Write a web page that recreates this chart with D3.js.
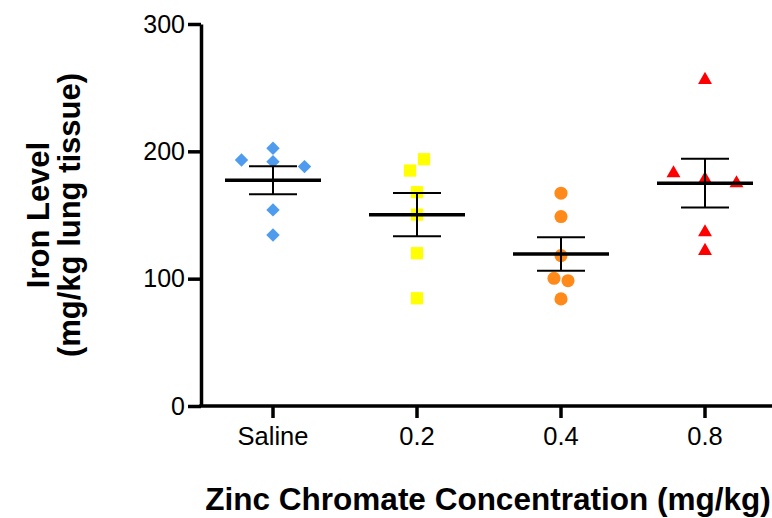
<!DOCTYPE html>
<html>
<head>
<meta charset="utf-8">
<script src="https://cdn.jsdelivr.net/npm/d3@7"></script>
<style>
  html, body { margin: 0; padding: 0; background: #fff; }
  svg { display: block; }
  text { font-family: "Liberation Sans", Arial, sans-serif; fill: #000; }
</style>
</head>
<body>
<svg id="chart" width="772" height="518"></svg>
<script>
// ---- data ----
const categories = ["Saline", "0.2", "0.4", "0.8"];
const salineValues = [202.4, 193.2, 191.9, 188.0, 154.0, 134.3];
const salineSlots  = [0, -4.5, 0, 4.5, 0, 0];
const dose02Values = [193.8, 184.9, 167.9, 150.3, 120.0, 84.6];
const dose02Slots  = [1, -1, 0, 0, 0, 0];
const dose04Values = [167.1, 148.8, 118.1, 100.3, 98.4, 84.1];
const dose04Slots  = [0, 0, 0, -1, 1, 0];
const dose08Values = [256.1, 182.8, 178.1, 174.9, 136.4, 121.8];
const dose08Slots  = [0, -4.5, 0, 4.5, 0, 0];
const yTicks = [0, 100, 200, 300];
const yLabel = ["Iron Level", "(mg/kg lung tissue)"];
const xLabel = "Zinc Chromate Concentration (mg/kg)";

const groups = [
  { name: categories[0], values: salineValues, slots: salineSlots, symbol: d3.symbolDiamond2, size: 115, color: "#4f9cef" },
  { name: categories[1], values: dose02Values, slots: dose02Slots, symbol: d3.symbolSquare, size: 150, color: "#ffff00" },
  { name: categories[2], values: dose04Values, slots: dose04Slots, symbol: d3.symbolCircle, size: 135, color: "#ff8a1a" },
  { name: categories[3], values: dose08Values, slots: dose08Slots, symbol: d3.symbolTriangle, size: 84, color: "#ff0000" }
];

// ---- layout ----
const svg = d3.select("#chart");
const x0 = 201, x1 = 777, yTop = 24, yBot = 406;

const x = d3.scaleBand().domain(categories).range([x0, x1]).padding(0);
const y = d3.scaleLinear().domain([0, 300]).range([yBot, yTop]);
const slot = d3.scaleLinear().domain([0, 1]).range([0, 7]);

// axes
const yAxis = svg.append("g")
  .attr("transform", `translate(${x0},0)`)
  .call(d3.axisLeft(y).tickValues(yTicks).tickSize(13).tickPadding(3).tickSizeOuter(0));
yAxis.select(".domain").attr("stroke", "#000").attr("stroke-width", 3.5);
yAxis.selectAll(".tick line").attr("stroke", "#000").attr("stroke-width", 3.5);
yAxis.selectAll(".tick text").attr("font-size", 25).attr("font-family", "Liberation Sans, Arial, sans-serif").attr("fill", "#000");

const xAxis = svg.append("g")
  .attr("transform", `translate(0,${yBot})`)
  .call(d3.axisBottom(x).tickSize(12).tickPadding(9).tickSizeOuter(0));
xAxis.select(".domain").attr("stroke", "#000").attr("stroke-width", 3.5).attr("d", `M${x0 - 1.75},0H${x1}`);
xAxis.selectAll(".tick line").attr("stroke", "#000").attr("stroke-width", 3.5);
xAxis.selectAll(".tick text").attr("font-size", 25.5).attr("font-family", "Liberation Sans, Arial, sans-serif").attr("fill", "#000");

// points
groups.forEach(g => {
  const cx = x(g.name) + x.bandwidth() / 2;
  svg.append("g").selectAll("path")
    .data(g.values.map((v, i) => ({ v, s: g.slots[i] })))
    .join("path")
    .attr("d", d3.symbol().type(g.symbol).size(g.size))
    .attr("transform", d => `translate(${cx + slot(d.s)},${y(d.v)})`)
    .attr("fill", g.color);
});

// mean and SEM
groups.forEach(g => {
  const cx = x(g.name) + x.bandwidth() / 2;
  const m = d3.mean(g.values);
  const sem = d3.deviation(g.values) / Math.sqrt(g.values.length);
  const gg = svg.append("g").attr("stroke", "#000");
  gg.append("line").attr("x1", cx).attr("x2", cx).attr("y1", y(m + sem)).attr("y2", y(m - sem)).attr("stroke-width", 2);
  [m + sem, m - sem].forEach(v => {
    gg.append("line").attr("x1", cx - 24).attr("x2", cx + 24).attr("y1", y(v)).attr("y2", y(v)).attr("stroke-width", 2);
  });
  gg.append("line").attr("x1", cx - 48).attr("x2", cx + 48).attr("y1", y(m)).attr("y2", y(m)).attr("stroke-width", 3.5);
});

// axis titles
svg.append("text")
  .attr("x", 488).attr("y", 510)
  .attr("text-anchor", "middle")
  .attr("font-size", 31.5).attr("font-weight", "bold")
  .text(xLabel);

const yt = svg.append("text")
  .attr("transform", `translate(49,${(yTop + yBot) / 2}) rotate(-90)`)
  .attr("text-anchor", "middle")
  .attr("font-size", 31).attr("font-weight", "bold");
yt.append("tspan").attr("x", 0).attr("y", 0).text(yLabel[0]);
yt.append("tspan").attr("x", 0).attr("y", 31).text(yLabel[1]);
</script>
</body>
</html>
